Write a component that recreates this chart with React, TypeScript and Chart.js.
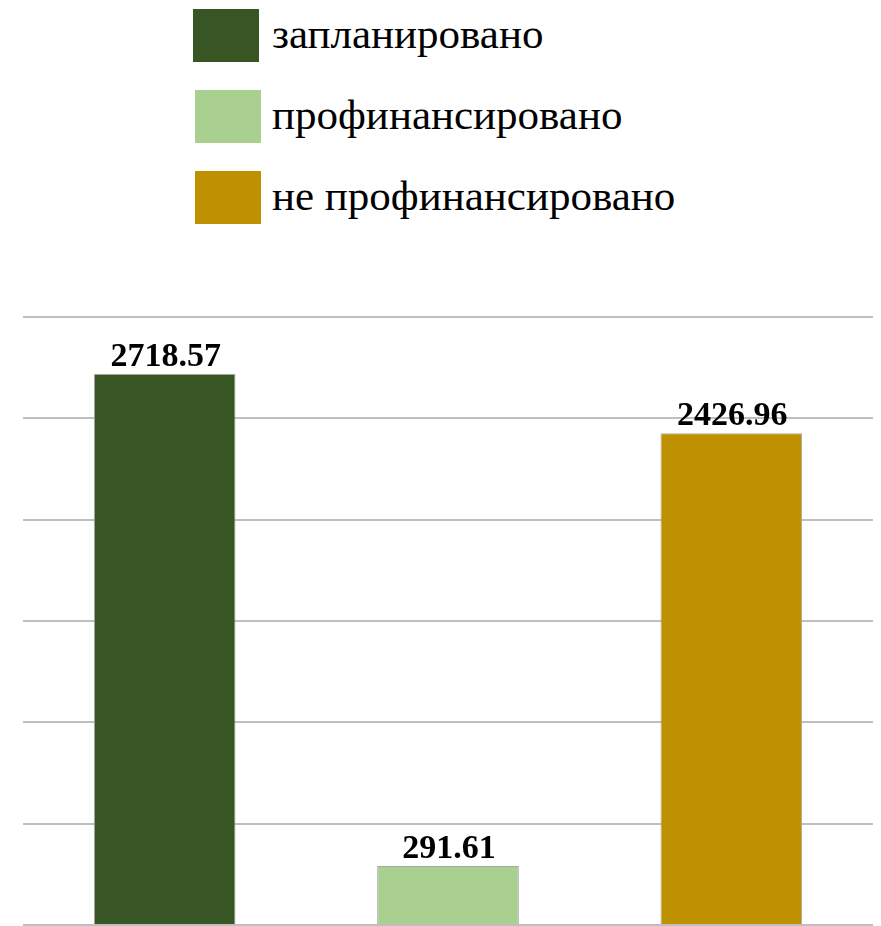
import React, { useEffect, useRef } from "react";
import { Chart, registerables } from "chart.js";

Chart.register(...registerables);

const categories = ["запланировано", "профинансировано", "не профинансировано"];
const values = [2718.57, 291.61, 2426.96];
const colors = ["#375623", "#a9d08e", "#bf9000"];
const valueLabels = ["2718.57", "291.61", "2426.96"];

const labelPlugin = {
  id: "valueLabels",
  afterDatasetsDraw(chart: any) {
    const ctx = chart.ctx;
    const meta = chart.getDatasetMeta(0);
    ctx.save();
    ctx.font = "bold 34px 'Liberation Serif', 'Times New Roman', serif";
    ctx.fillStyle = "#000000";
    ctx.textAlign = "center";
    ctx.textBaseline = "alphabetic";
    meta.data.forEach((bar: any, i: number) => {
      ctx.fillText(valueLabels[i], bar.x + 1, bar.y - 8);
    });
    ctx.restore();
  },
};

export default function App() {
  const ref = useRef<HTMLCanvasElement | null>(null);
  useEffect(() => {
    if (!ref.current) return;
    const chart = new Chart(ref.current, {
      type: "bar",
      data: {
        labels: categories,
        datasets: [
          {
            data: values,
            backgroundColor: colors,
            borderColor: "#a6a6a6",
            borderWidth: 1,
            barPercentage: 0.5,
            categoryPercentage: 1,
          },
        ],
      },
      options: {
        animation: false,
        responsive: false,
        maintainAspectRatio: false,
        layout: { padding: { top: 37, bottom: 1, left: 1, right: 0 } },
        plugins: { legend: { display: false }, tooltip: { enabled: false } },
        scales: {
          x: { display: false },
          y: {
            min: 0,
            max: 3000,
            ticks: { display: false, stepSize: 500 },
            border: { display: false },
            grid: { color: "#bfbfbf", lineWidth: 2, drawTicks: false },
          },
        },
      },
      plugins: [labelPlugin],
    });
    return () => chart.destroy();
  }, []);

  const legendTops = [9, 90, 171];
  return (
    <div style={{ position: "absolute", left: 0, top: 0, width: 881, height: 926, background: "#fff" }}>
      {categories.map((c, i) => (
        <div key={c} style={{ position: "absolute", left: i === 0 ? 193 : 195, top: legendTops[i], height: 53 }}>
          <div style={{ position: "absolute", left: 0, top: 0, width: 66, height: 53, background: colors[i] }} />
          <div
            style={{
              position: "absolute",
              left: 272 - (i === 0 ? 193 : 195),
              top: -2,
              whiteSpace: "nowrap",
              fontFamily: "'Liberation Serif', 'Times New Roman', serif",
              fontSize: 43,
              lineHeight: "53px",
              color: "#000",
            }}
          >
            {c}
          </div>
        </div>
      ))}
      <canvas ref={ref} width={851} height={646} style={{ position: "absolute", left: 22, top: 280, width: 851, height: 646 }} />
    </div>
  );
}
